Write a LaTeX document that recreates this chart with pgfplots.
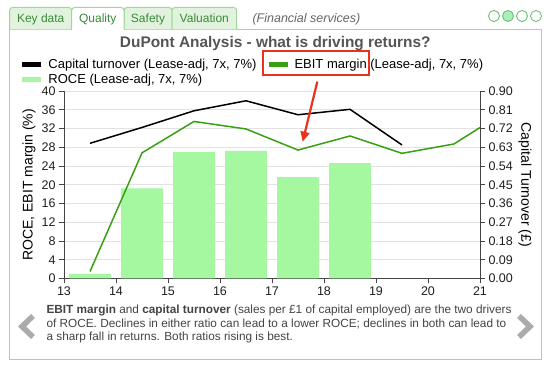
\documentclass[border=0pt]{standalone}
\usepackage{fontspec}
\setmainfont{Liberation Sans}
\usepackage{pgfplots}
\pgfplotsset{compat=1.18}
\usetikzlibrary{arrows.meta}
\definecolor{rocegreen}{HTML}{A5F8A0}
\definecolor{ebitgreen}{HTML}{39A014}
\definecolor{panelgreen}{HTML}{9FD89A}
\definecolor{tabfill}{HTML}{E2F3DD}
\definecolor{tabtext}{HTML}{3A8A3A}
\definecolor{arrowred}{HTML}{E8321E}
\definecolor{captext}{HTML}{444444}
\definecolor{titletext}{HTML}{555555}
\definecolor{gridgray}{HTML}{E2E2E2}
\definecolor{axisgray}{HTML}{444444}
\definecolor{circfill}{HTML}{A8F0B8}
\definecolor{circdraw}{HTML}{6CC078}

\begin{document}
\begin{tikzpicture}[x=1pt,y=1pt]
\path[use as bounding box, fill=white] (0,0) rectangle (552,371);
% panel
\draw[panelgreen, line width=1pt] (9.5,11.5) rectangle (541.5,341.5);
% tabs
\foreach \a/\b in {9.5/71.7, 124/172, 172/236.7}{
  \draw[panelgreen, fill=tabfill, line width=1pt, rounded corners=3pt] (\a,341.5) -- (\a,363.5) -- (\b,363.5) -- (\b,341.5);
}
\fill[white] (71.7,340.8) rectangle (124,363.5);
\draw[panelgreen, line width=1pt, rounded corners=3pt] (71.7,341.5) -- (71.7,363.5) -- (124,363.5) -- (124,341.5);
\begin{scope}[every node/.style={font=\fontsize{12}{14}\selectfont, text=tabtext, anchor=base}]
\node at (40.7,348.3) {Key data};
\node at (97.8,348.3) {Quality};
\node at (148,348.3) {Safety};
\node at (204.3,348.3) {Valuation};
\end{scope}
\node[anchor=base west, font=\fontsize{12.5}{14}\selectfont\itshape, text=black!60] at (249,348.3) {(Financial services)};
% circles
\foreach \cx in {494,522,536}{\draw[circdraw, line width=0.9pt] (\cx,355) circle (5.5);}
\draw[circdraw, fill=circfill, line width=0.9pt] (508,355) circle (5.5);
% title
\node[anchor=base, font=\fontsize{15.4}{18}\selectfont\bfseries, text=titletext] at (275.3,323.8) {DuPont Analysis - what is driving returns?};

\begin{axis}[
  at={(64pt,92.5pt)}, anchor=south west, scale only axis,
  width=416pt, height=187.5pt,
  xmin=13, xmax=21, ymin=0, ymax=40,
  xtick={13,14,15,16,17,18,19,20,21},
  ytick={0,4,8,12,16,20,24,28,32,36,40},
  axis y line*=left, axis x line*=bottom,
  ymajorgrids, grid style={gridgray, line width=0.8pt},
  tick align=outside, major tick length=5pt,
  tick style={axisgray, line width=0.8pt}, axis line style={axisgray, line width=0.8pt},
  /pgf/number format/assume math mode=true,
  ticklabel style={font=\fontsize{12.5}{14}\selectfont, text=black!88},
  every axis y label/.style={at={(axis description cs:-0.0841,0.5)}, rotate=90, anchor=center, font=\fontsize{14}{16}\selectfont},
  ylabel={ROCE, EBIT margin (\%)},
  legend image code/.code={\draw[#1] (0pt,0pt) -- (19pt,0pt);},
  legend columns=2,
  legend cell align=left,
  legend style={at={(axis description cs:-0.1058,1.178)}, anchor=north west, draw=none, fill=none,
    inner sep=0pt, font=\fontsize{13}{15}\selectfont,
    nodes={inner sep=0.75pt, text height=9.5pt, text depth=2.5pt},
    row sep=1.5pt,
    /tikz/every odd column/.append style={column sep=4pt},
    /tikz/every even column/.append style={column sep=9pt}},
]
\addlegendimage{black, line width=4.5pt}
\addlegendentry{Capital turnover (Lease-adj, 7x, 7\%)}
\addlegendimage{ebitgreen, line width=4.5pt}
\addlegendentry{EBIT margin (Lease-adj, 7x, 7\%)}
\addlegendimage{rocegreen, line width=4.5pt}
\addlegendentry{ROCE (Lease-adj, 7x, 7\%)}
\addplot[ybar, bar width=0.8, fill=rocegreen, draw=none, forget plot]
  coordinates {(13.5,1.0) (14.5,19.2) (15.5,27.0) (16.5,27.2) (17.5,21.6) (18.5,24.6)};
\addplot[ebitgreen, line width=1.5pt, mark=none, forget plot]
  coordinates {(13.5,1.5) (14.5,26.8) (15.5,33.5) (16.5,31.9) (17.5,27.4) (18.5,30.4) (19.5,26.7) (20.5,28.7) (21,32.2)};
\end{axis}

\begin{axis}[
  at={(64pt,92.5pt)}, anchor=south west, scale only axis,
  width=416pt, height=187.5pt,
  xmin=13, xmax=21, ymin=0, ymax=0.9,
  axis y line*=right, axis x line=none,
  ytick={0,0.09,0.18,0.27,0.36,0.45,0.54,0.63,0.72,0.81,0.9},
  yticklabel style={/pgf/number format/.cd, fixed, fixed zerofill, precision=2},
  tick align=outside, major tick length=5pt,
  tick style={axisgray, line width=0.8pt}, axis line style={axisgray, line width=0.8pt},
  /pgf/number format/assume math mode=true,
  ticklabel style={font=\fontsize{12.5}{14}\selectfont, text=black!88},
  every axis y label/.style={at={(axis description cs:1.108,0.5)}, rotate=-90, anchor=center, font=\fontsize{14}{16}\selectfont},
  ylabel={Capital Turnover (£)},
]
\addplot[black, line width=1.5pt, mark=none]
  coordinates {(13.5,0.649) (14.5,0.725) (15.5,0.805) (16.5,0.853) (17.5,0.786) (18.5,0.812) (19.5,0.641)};
\end{axis}

% highlight box and arrow
\draw[arrowred, line width=2pt] (262.7,319.5) rectangle (369.3,295.5);
\draw[arrowred, line width=2.2pt, -{Triangle[length=10pt,width=9pt]}] (317.3,289.3) -- (302.7,229.3);

% caption
\begin{scope}[every node/.style={anchor=base west, font=\fontsize{11.8}{13}\selectfont, text=captext}]
\node at (43,57) {\textbf{EBIT margin} and \textbf{capital turnover} (sales per £1 of capital employed) are the two drivers};
\node at (43,43.5) {of ROCE. Declines in either ratio can lead to a lower ROCE; declines in both can lead to};
\node at (43,30) {a sharp fall in returns. Both ratios rising is best.};
\end{scope}
% chevrons
\draw[black!33, line width=5.5pt, line join=miter, line cap=butt] (33,55) -- (22,44.5) -- (33,34);
\draw[black!33, line width=5.5pt, line join=miter, line cap=butt] (519,55) -- (530,44.5) -- (519,34);
\end{tikzpicture}
\end{document}
